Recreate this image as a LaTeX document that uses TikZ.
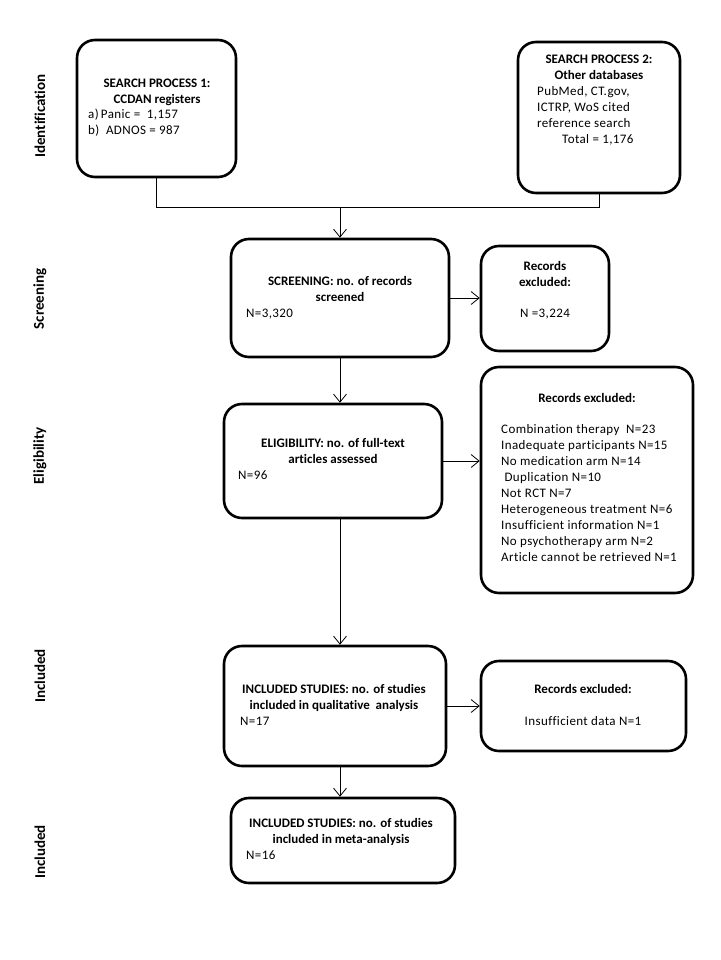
\documentclass[tikz,border=0pt]{standalone}
\usepackage{fontspec}
\setmainfont{Carlito}[Ligatures=NoCommon]
\newfontfamily\regf{Carlito}[LetterSpace=3,Ligatures=NoCommon]
\usetikzlibrary{arrows.meta}
\begin{document}
\begin{tikzpicture}[x=1pt,y=-1pt,
  box/.style={draw, line width=2.6pt, rounded corners=18pt, inner sep=0pt},
  conn/.style={line width=0.8pt},
  arr/.style={line width=0.8pt, -{Straight Barb[length=8pt,width=13pt]}},
  txt/.style={font=\fontsize{13}{15}\selectfont\regf, inner sep=0pt, anchor=mid},
  btxt/.style={font=\fontsize{13}{15}\selectfont\bfseries, inner sep=0pt, anchor=mid},
  ltxt/.style={font=\fontsize{13}{15}\selectfont\regf, inner sep=0pt, anchor=mid west},
  side/.style={font=\fontsize{15}{17}\selectfont\bfseries, rotate=90, inner sep=0pt}
]
\fill[white] (0,0) rectangle (720,960);
\useasboundingbox (0,0) rectangle (720,960);

% boxes
\node[box, minimum width=159pt, minimum height=137pt] (s1) at (156.5,108.5) {};
\node[box, minimum width=162pt, minimum height=151pt] (s2) at (599,117.5) {};
\node[box, minimum width=218pt, minimum height=118pt] (scr) at (340,298) {};
\node[box, minimum width=128pt, minimum height=105pt] (ex1) at (545,298.5) {};
\node[box, minimum width=218pt, minimum height=114pt] (eli) at (333,461) {};
\node[box, minimum width=212pt, minimum height=226pt] (ex2) at (587,480) {};
\node[box, minimum width=222pt, minimum height=120pt] (inc) at (335,706) {};
\node[box, minimum width=205pt, minimum height=90pt] (ex3) at (583.5,706) {};
\node[box, minimum width=224pt, minimum height=85pt] (met) at (343,840.5) {};

% side labels
\node[side] (l1) at (40,116) {Identification};
\node[side] (l2) at (40,299) {Screening};
\node[side] (l3) at (40,456) {Eligibility};
\node[side] (l4) at (40,676) {Included};
\node[side] (l5) at (40,852) {Included};

% texts box 1
\node[btxt] (t11) at (157,85) {SEARCH PROCESS 1:};
\node[btxt] (t12) at (157,101) {CCDAN registers};
\node[ltxt] (t13) at (88,116) {a)\,Panic =\ \ 1,157};
\node[ltxt] (t14) at (88,132) {b)\ \ ADNOS = 987};

% texts box 2
\node[btxt] (t21) at (599,61) {SEARCH PROCESS 2:};
\node[btxt] (t22) at (599,77) {Other databases};
\node[ltxt] (t23) at (537,93) {PubMed, CT.gov,};
\node[ltxt] (t24) at (537,109) {ICTRP, WoS cited};
\node[ltxt] (t25) at (537,125) {reference search};
\node[ltxt] (t26) at (562,141) {Total = 1,176};

% screening
\node[btxt] (t31) at (340,283) {SCREENING: no. of records};
\node[btxt] (t32) at (340,299) {screened};
\node[ltxt] (t33) at (246,315) {N=3,320};
\node[btxt] (t41) at (545,268) {Records};
\node[btxt] (t42) at (545,284) {excluded:};
\node[txt] (t43) at (545,315) {N =3,224};

% eligibility
\node[btxt] (t51) at (333,445) {ELIGIBILITY: no. of full-text};
\node[btxt] (t52) at (333,461) {articles assessed};
\node[ltxt] (t53) at (238,477) {N=96};
\node[btxt] (t60) at (587,400) {Records excluded:};
\foreach \s [count=\i] in {Combination therapy\ \ N=23, Inadequate participants N=15, No medication arm N=14, \ Duplication N=10, Not RCT N=7, Heterogeneous treatment N=6, Insufficient information N=1, No psychotherapy arm N=2, Article cannot be retrieved N=1}
  \node[ltxt] (t6\i) at (501,{415+16*\i}) {\s};

% included
\node[btxt] (t71) at (334,691) {INCLUDED STUDIES: no. of studies};
\node[btxt] (t72) at (334,707) {included in qualitative\ \ analysis};
\node[ltxt] (t73) at (240,723) {N=17};
\node[btxt] (t81) at (583,691) {Records excluded:};
\node[txt] (t82) at (583,723) {Insufficient data N=1};

% meta
\node[btxt] (t91) at (341,825) {INCLUDED STUDIES: no. of studies};
\node[btxt] (t92) at (341,841) {included in meta-analysis};
\node[ltxt] (t93) at (246,857) {N=16};

% connectors
\coordinate (j) at (340,207);
\draw[conn] (s1.south) |- (j);
\draw[conn] (s2.south) |- (j);
\draw[arr] (j) -- (scr.north);
\draw[arr] (scr.east) -- (scr.east -| ex1.west);
\draw[arr] (scr.south) -- (scr.south |- eli.north);
\draw[arr] (eli.east) -- (eli.east -| ex2.west);
\draw[arr] (eli.south -| scr.south) -- (inc.north -| scr.south);
\draw[arr] (inc.east) -- (inc.east -| ex3.west);
\draw[arr] (inc.south -| scr.south) -- (met.north -| scr.south);
\end{tikzpicture}
\end{document}
